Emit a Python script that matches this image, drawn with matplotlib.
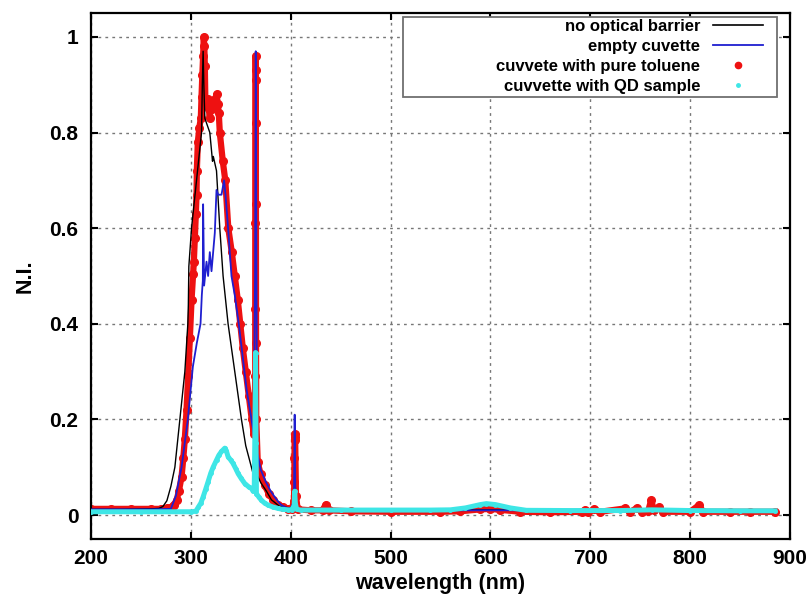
import matplotlib
matplotlib.use("Agg")
from matplotlib import pyplot as plt
from matplotlib.lines import Line2D
from matplotlib.patches import Rectangle

# no optical barrier (black)
wl_free = [200, 230, 260, 268, 272, 276, 280, 284, 289, 294, 297, 297.5, 298, 300.7, 305.7, 310.7,
           311.5, 312.3, 313, 314, 319, 321.7, 322.5, 325.7, 329, 332.3, 337.3, 344, 350.7, 355, 360.7,
           362.3, 364, 366, 367.3, 370, 375.7, 380.7, 389, 399, 404, 405, 410, 450, 500,
           550, 600, 650, 700, 750, 800, 850, 885]
ni_free = [0.012, 0.012, 0.013, 0.014, 0.018, 0.03, 0.06, 0.10, 0.20, 0.30, 0.40, 0.44, 0.52, 0.60, 0.70, 0.80,
           0.90, 0.97, 0.90, 0.83, 0.80, 0.74, 0.75, 0.72, 0.60, 0.50, 0.40, 0.30, 0.20, 0.145, 0.10,
           0.087, 0.09, 0.085, 0.08, 0.068, 0.05, 0.032, 0.018, 0.015, 0.02, 0.014, 0.012, 0.011, 0.011,
           0.011, 0.011, 0.011, 0.011, 0.011, 0.011, 0.011, 0.011]

# empty cuvette (blue)
wl_empty = [200, 260, 280, 285, 290.7, 297, 302, 306, 309.7, 311, 312, 312.3, 313.3, 315.7,
            317.3, 319, 320.7, 324, 325.7, 327.3, 330.7, 333.3, 334.7, 337.3, 339, 340.7, 344, 348, 352,
            356, 360, 363, 364.3, 365, 365.7, 366.5, 370, 375, 380, 385, 390, 395, 400, 403.3, 404, 404.7,
            406, 450, 500, 600, 700, 800, 885]
ni_empty = [0.012, 0.012, 0.013, 0.04, 0.10, 0.20, 0.31, 0.36, 0.40, 0.46, 0.49, 0.65, 0.48, 0.53,
            0.50, 0.55, 0.51, 0.59, 0.68, 0.67, 0.67, 0.70, 0.67, 0.60, 0.55, 0.50, 0.46, 0.40, 0.33,
            0.26, 0.21, 0.17, 0.5, 0.97, 0.5, 0.13, 0.095, 0.07, 0.05, 0.035, 0.022, 0.016, 0.013, 0.03, 0.21, 0.03,
            0.012, 0.01, 0.01, 0.01, 0.01, 0.01, 0.01]

# cuvette with pure toluene (red dots)
wl_tol = [200, 220, 240, 260, 270, 276, 280.7, 283, 285.7, 288, 290.7, 292.5, 294, 295.7, 297.3, 299,
          300.7, 302.3, 303, 304, 305, 305.7, 306, 307, 308.5, 310, 310.7, 311.5, 312.3, 313, 313.5, 314,
          314.5, 315.5, 317, 318, 319, 320, 321.5, 323, 324.5, 325.7, 327, 328, 329, 332, 334.5,
          337.5, 341, 344, 347, 349.5, 352, 355, 358, 361, 363, 363.8,
          364.5, 364.6, 364.7, 364.8, 364.9, 365.0, 365.1, 365.2, 365.3, 365.5, 367, 370, 374, 378,
          382, 387, 392, 397, 401, 403.3, 403.6, 403.8, 404.0, 404.2, 404.5, 405.3, 407, 420, 432,
          435, 438, 460, 500, 550, 570, 590, 600, 610, 630, 660, 692, 695, 698, 704, 710, 735, 740, 747,
          752, 758, 761, 764, 769, 773, 800, 809, 813, 840, 860, 885]
ni_tol = [0.013, 0.013, 0.013, 0.013, 0.013, 0.015, 0.017, 0.022, 0.031, 0.05, 0.08, 0.12, 0.16, 0.22, 0.29, 0.37,
          0.45, 0.505, 0.53, 0.58, 0.63, 0.67, 0.72, 0.78, 0.81, 0.83, 0.875, 0.92, 0.96, 1.0, 0.98, 0.94,
          0.87, 0.86, 0.87, 0.85, 0.83, 0.86, 0.85, 0.86, 0.87, 0.88, 0.86, 0.84, 0.80, 0.74, 0.70,
          0.60, 0.55, 0.50, 0.45, 0.40, 0.35, 0.30, 0.25, 0.20, 0.17, 0.2,
          0.29, 0.43, 0.61, 0.82, 0.96, 0.93, 0.91, 0.65, 0.36, 0.2, 0.11, 0.085, 0.062, 0.045,
          0.032, 0.022, 0.016, 0.013, 0.012, 0.03, 0.07, 0.12, 0.17, 0.163, 0.157, 0.04, 0.012, 0.01, 0.01,
          0.022, 0.01, 0.008, 0.007, 0.007, 0.008, 0.012, 0.013, 0.011, 0.007, 0.006, 0.007, 0.011, 0.007, 0.012, 0.007, 0.014, 0.007, 0.015,
          0.007, 0.008, 0.031, 0.01, 0.016, 0.007, 0.007, 0.021, 0.007, 0.007, 0.007, 0.007]

# cuvette with QD sample (cyan)
wl_qd = [200, 250, 300, 305, 307.3, 310, 312.3, 315, 317.3, 320, 322.3, 325.7, 328, 330.7, 334, 335.5,
         337.3, 340, 342.3, 345, 347.3, 350, 354, 358, 360.7, 362.3, 363.5, 364.3, 364.8, 365.3, 365.7, 368,
         370.7, 374, 377.3, 382, 387.3, 392, 397.3, 401, 403.5, 404, 404.7, 406, 410, 450, 500, 540, 560,
         575, 590, 596, 605, 620, 636, 680, 730, 762, 800, 850, 885]
ni_qd = [0.007, 0.007, 0.007, 0.008, 0.016, 0.025, 0.038, 0.055, 0.07, 0.088, 0.1, 0.115, 0.125, 0.133, 0.14, 0.135,
         0.122, 0.115, 0.108, 0.097, 0.087, 0.078, 0.066, 0.059, 0.056, 0.05, 0.055, 0.2, 0.34, 0.15, 0.045, 0.038,
         0.031, 0.025, 0.021, 0.017, 0.014, 0.012, 0.011, 0.011, 0.02, 0.05, 0.024, 0.012, 0.0105, 0.0105, 0.0105, 0.0105, 0.011,
         0.015, 0.022, 0.024, 0.022, 0.015, 0.01, 0.0095, 0.0095, 0.011, 0.0095, 0.009, 0.009]

labels = ["no optical barrier", "empty cuvette", "cuvvete with pure toluene", "cuvvette with QD sample"]

plt.rcParams["font.family"] = ["Liberation Sans", "DejaVu Sans"]
plt.rcParams["font.weight"] = "bold"

fig, ax = plt.subplots(figsize=(8.11, 6.04), dpi=100)
fig.subplots_adjust(left=0.1122, right=0.974, top=0.9785, bottom=0.1076)

red = "#ee1111"
cyan = "#3ee6e6"
blue = "#1f1fd0"

ax.plot(wl_tol, ni_tol, color=red, lw=4.5, marker="o", ms=5.5, mec=red, zorder=2)
ax.plot(wl_free, ni_free, color="black", lw=1.0, zorder=2.5)
ax.plot(wl_empty, ni_empty, color=blue, lw=1.3, zorder=2.6)
ax.plot(wl_qd, ni_qd, color=cyan, lw=3.6, marker="o", ms=2.5, mec=cyan, zorder=3)

ax.set_xlim(200, 900)
ax.set_ylim(-0.05, 1.05)
ax.set_xticks([200, 300, 400, 500, 600, 700, 800, 900])
ax.set_yticks([0, 0.2, 0.4, 0.6, 0.8, 1.0])
ax.set_yticklabels(["0", "0.2", "0.4", "0.6", "0.8", "1"])
ax.grid(True, color="#777777", lw=1.0, linestyle=(0, (2, 3)))
ax.set_axisbelow(True)
ax.tick_params(direction="in", length=5, width=1.5, top=True, right=True, labelsize=15)
ax.tick_params(axis="x", pad=7)
ax.tick_params(axis="y", pad=9)
for s in ax.spines.values():
    s.set_linewidth(1.6)

ax.set_xlabel("wavelength (nm)", fontsize=15.5, fontweight="bold", labelpad=4)
ax.set_ylabel("N.I.", fontsize=15.5, fontweight="bold", labelpad=10)

handles = [Line2D([], [], color="black", lw=1.2),
           Line2D([], [], color=blue, lw=1.3),
           Line2D([], [], color=red, lw=0, marker="o", ms=4.5),
           Line2D([], [], color=cyan, lw=0, marker="o", ms=2.5)]
ax.add_patch(Rectangle((0.446, 0.840), 0.535, 0.152, transform=ax.transAxes,
                       facecolor="white", edgecolor="#707070", lw=1.3, zorder=4))
leg = ax.legend(handles, labels, loc="upper right", bbox_to_anchor=(0.962, 0.988), frameon=False,
                markerfirst=False, fontsize=12, handlelength=3.0, handletextpad=0.8,
                labelspacing=0.3, borderpad=0, borderaxespad=0)
leg.set_zorder(5)
for col in leg._legend_handle_box.get_children():
    col.align = "right"

fig.savefig("out.png", dpi=100)
